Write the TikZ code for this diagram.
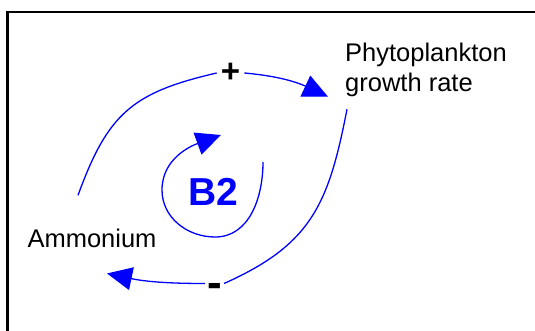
\documentclass[tikz,border=0pt]{standalone}
\usepackage{fontspec}
\setmainfont{Liberation Sans}
\usepackage{xcolor}
\usepackage{tikz}
\usetikzlibrary{arrows.meta, positioning}

\begin{document}
\begin{tikzpicture}[x=1pt, y=-1pt,
            % Variable labels
            var/.style={font=\fontsize{25.5}{30}\selectfont, align=left, inner sep=0pt},
            % Polarity signs
            sign/.style={font=\fontsize{33}{33}\selectfont\bfseries, inner sep=4pt},
            % Causal link
            link/.style={line width=1.3pt, color=blue},
            % Causal link with head
            arr/.style={link, -{Triangle[length=25pt, width=23pt]}},
            % Loop label
            looplabel/.style={font=\fontsize{39}{39}\selectfont\bfseries, text=blue, inner sep=0pt}
        ]
        \useasboundingbox (0,0) rectangle (535,331);

        % Frame
        \draw[line width=2.4pt] (7.3,331) -- (7.3,12) -- (535,12);

        % Ammonium
        \node[var, anchor=base] (ammonium) at (92,247) {Ammonium};

        % Phytoplankton growth rate
        \node[var, anchor=north west] (phyto) at (345,42.5) {Phytoplankton\\growth rate};

        % Signs
        \node[sign] (plus) at (230.5,73) {+};
        \node[sign, inner xsep=2pt, inner ysep=0pt, text height=27pt, text depth=0pt,
              font=\fontsize{44}{44}\selectfont\bfseries] (minus) at (214.5,283.5) {-};

        % Loop label
        \node[looplabel] (b2) at (213.5,192) {B2};

        % Arrows
        \draw[link] ([xshift=-14pt, yshift=33pt]ammonium.north) to[out=70, in=193, looseness=1.2] (plus.west);
        \draw[arr] (plus.east) to[out=-5, in=155] ([xshift=-17pt]phyto.south west);
        \draw[link] ([xshift=2pt, yshift=-12.6pt]phyto.south west) to[out=-101, in=24, looseness=1.15] (minus.east);
        \draw[arr] (minus.west) to[out=180, in=-12] ([xshift=15pt, yshift=-26pt]ammonium.south);

        % Loop symbol
        \draw[arr] ([xshift=49.5pt, yshift=30pt]b2.center) to[out=-90, in=0] ([xshift=1.5pt, yshift=-45pt]b2.center)
            to[out=180, in=-90] ([xshift=-51.5pt, yshift=2pt]b2.center)
            to[out=90, in=200] ([xshift=7.5pt, yshift=57pt]b2.center);
\end{tikzpicture}
\end{document}
